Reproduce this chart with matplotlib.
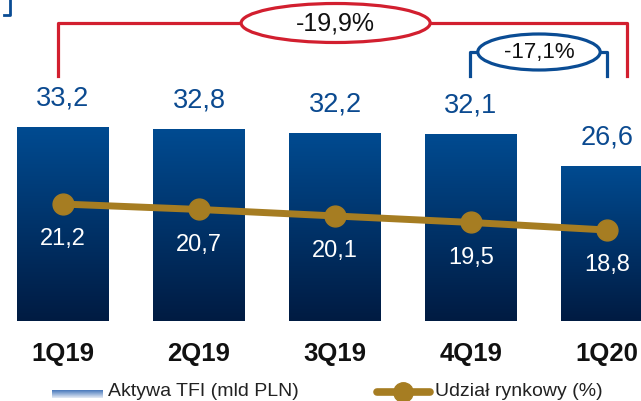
import numpy as np
import matplotlib
matplotlib.use("Agg")
from matplotlib import pyplot as plt
from matplotlib import transforms
from matplotlib.colors import LinearSegmentedColormap
from matplotlib.patches import Ellipse
from matplotlib.lines import Line2D

plt.rcParams['font.family'] = ['Liberation Sans Narrow', 'Liberation Sans', 'DejaVu Sans']

quarters = ['1Q19', '2Q19', '3Q19', '4Q19', '1Q20']
assets = [33.2, 32.8, 32.2, 32.1, 26.6]          # Aktywa TFI (mld PLN)
share = [21.2, 20.7, 20.1, 19.5, 18.8]           # Udzial rynkowy (%)
change_total = '-19,9%'
change_last = '-17,1%'

W, H = 641, 401
BLUE_TXT = '#0b4a90'
GOLD = '#a67d22'
RED = '#d21f2f'
BLUE_LINE = '#0a4c94'


def fmt(v):
    return ('%.1f' % v).replace('.', ',')


fig = plt.figure(figsize=(W / 100, H / 100), dpi=100)
fig.patch.set_facecolor('white')

# main axes: from pixel row 0 (top) to 321 (bar baseline)
ax = fig.add_axes([0, (H - 321) / H, 1, 321 / H])
ax.set_xlim(-0.463, 4.25)
ax.set_ylim(0, 54.97)
ax.axis('off')

x = np.arange(len(quarters))
bars = ax.bar(x, assets, width=0.676, color='none', edgecolor='none')

grad_cmap = LinearSegmentedColormap.from_list('bar', ['#001b42', '#004b91'])
grad = np.linspace(0, 1, 256).reshape(-1, 1)
for b in bars:
    x0, w, h = b.get_x(), b.get_width(), b.get_height()
    im = ax.imshow(grad, extent=[x0, x0 + w, 0, h], origin='lower', aspect='auto',
                   cmap=grad_cmap, zorder=1)
    im.set_clip_path(b)
ax.set_xlim(-0.463, 4.25)
ax.set_ylim(0, 54.97)

for xi, v in zip(x, assets):
    ax.annotate(fmt(v), (xi, v), xytext=(0, 20.5), textcoords='offset points',
                ha='center', va='center', fontsize=19.5, color=BLUE_TXT)

# tick labels
for xi, q in zip(x, quarters):
    ax.annotate(q, (xi, 0), xytext=(0, -24), textcoords='offset points',
                ha='center', va='center', fontsize=18.5, fontweight='bold', color='#111111',
                annotation_clip=False)

# market share line on secondary scale
ax2 = fig.add_axes([0, (H - 321) / H, 1, 321 / H], sharex=ax)
ax2.set_ylim(10.4, 40.04)
ax2.axis('off')
ax2.patch.set_alpha(0)
ax2.plot(x, share, color=GOLD, lw=5, marker='o', markersize=15, zorder=3,
         solid_capstyle='round')
for xi, v in zip(x, share):
    ax2.annotate(fmt(v), (xi, v), xytext=(0, -25.5), textcoords='offset points',
                 ha='center', va='center', fontsize=17, color='white')

# brackets (x from data, y in pixels from top)
pix = transforms.Affine2D().scale(1 / W, -1 / H).translate(0, 1) + fig.transFigure
bt = transforms.blended_transform_factory(ax.transData, pix)

ax2.add_line(Line2D([x[0] - 0.04, x[0] - 0.04, x[4] + 0.15, x[4] + 0.15], [76, 23, 23, 76],
                    transform=bt, color=RED, lw=2.3, clip_on=False, zorder=5))
ax2.add_patch(Ellipse((x[2] + 0.005, 23), 1.39, 39, transform=bt, facecolor='white',
                      edgecolor=RED, lw=2.3, clip_on=False, zorder=6))
ax2.text(x[2] + 0.005, 24, change_total, transform=bt, ha='center', va='center',
         fontsize=18, color='#111111', zorder=7, clip_on=False)

ax2.add_line(Line2D([x[3] - 0.01, x[3] - 0.01, x[4], x[4]], [76, 52, 52, 76],
                    transform=bt, color=BLUE_LINE, lw=2.3, clip_on=False, zorder=5))
ax2.add_patch(Ellipse(((x[3] + x[4]) / 2, 52), 0.9, 36, transform=bt, facecolor='white',
                      edgecolor=BLUE_LINE, lw=2.3, clip_on=False, zorder=6))
ax2.text((x[3] + x[4]) / 2, 52.5, change_last, transform=bt, ha='center', va='center',
         fontsize=16, color='#111111', zorder=7, clip_on=False)

# cropped bracket tail in the top-left corner
fig.add_artist(Line2D([4, 10, 10], [15, 15, 0], transform=pix, color=BLUE_LINE, lw=2))

# legend
lax = fig.add_axes([52 / W, (H - 398) / H, 51 / W, 8 / H])
lax.imshow(grad, aspect='auto', origin='lower',
           cmap=LinearSegmentedColormap.from_list('leg', ['#e6ecf6', '#4677bb']))
lax.axis('off')
fig.text(108 / W, 1 - 391 / H, 'Aktywa TFI (mld PLN)', ha='left', va='center',
         fontsize=14, color='#222222')
fig.add_artist(Line2D([377, 430], [392, 392], transform=pix, color=GOLD, lw=5.5,
                      solid_capstyle='round'))
fig.add_artist(Line2D([403], [392], transform=pix, color=GOLD, marker='o', markersize=14))
fig.text(435 / W, 1 - 391 / H, 'Udział rynkowy (%)', ha='left', va='center',
         fontsize=14, color='#222222')

fig.savefig('out.png', dpi=100)
